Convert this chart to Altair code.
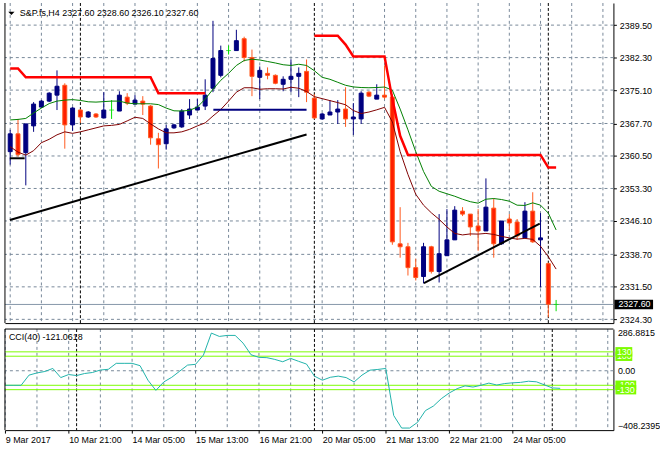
import altair as alt
import pandas as pd

# ---------------- values ----------------
symbol_caption = "S&P.fs,H4  2327.60 2328.60 2326.10 2327.60"
cci_caption = "CCI(40) -121.0618"

time_labels = ["9 Mar 2017", "10 Mar 21:00", "14 Mar 05:00", "15 Mar 13:00",
               "16 Mar 21:00", "20 Mar 05:00", "21 Mar 13:00", "22 Mar 21:00",
               "24 Mar 05:00"]
time_label_bars = [0, 8, 16, 24, 32, 40, 48, 56, 64]
grid_bars = [0, 4, 8, 12, 16, 20, 24, 28, 32, 36, 40, 44, 48, 52, 56, 60, 64, 68, 72, 76]
separator_bars = [9, 39, 69]

price_ticks = [2389.50, 2382.30, 2375.10, 2367.70, 2360.50, 2353.30,
               2346.10, 2338.70, 2331.50, 2324.30]
last_price = 2327.60

cci_ticks = [286.8815, 0.0, -408.2395]
cci_levels = [100, -100, 130, -130]

opens = [2361.46, 2365.41, 2361.24, 2367.17, 2371.34, 2372.66, 2373.98, 2376.17, 2367.39, 2370.68,
         2369.14, 2369.80, 2368.93, 2370.68, 2370.46, 2373.54, 2372.00, 2372.66, 2371.56, 2364.31,
         2363.22, 2366.73, 2366.95, 2369.58, 2370.68, 2371.56, 2375.51, 2378.37, 2383.86, 2383.86,
         2386.49, 2382.32, 2377.93, 2378.81, 2378.37, 2376.39, 2377.49, 2378.15, 2379.25, 2373.32,
         2368.71, 2369.58, 2370.24, 2370.90, 2368.71, 2368.71, 2374.64, 2373.10, 2373.98, 2373.54,
         2341.04, 2340.38, 2335.76, 2333.79, 2340.38, 2334.89, 2338.40, 2341.91, 2348.28, 2347.62,
         2344.99, 2343.89, 2348.94, 2341.04, 2346.53, 2345.87, 2342.35, 2348.28, 2341.91, 2336.64,
         2327.60]
highs = [2366.29, 2368.71, 2367.61, 2372.44, 2372.88, 2374.64, 2379.47, 2376.61, 2371.34, 2370.90,
         2370.46, 2370.02, 2374.64, 2372.88, 2374.85, 2374.42, 2373.98, 2373.76, 2371.78, 2365.63,
         2367.39, 2367.61, 2370.90, 2373.10, 2373.10, 2377.49, 2390.45, 2384.96, 2384.96, 2388.47,
         2386.93, 2384.08, 2380.34, 2380.13, 2378.59, 2378.15, 2381.88, 2380.13, 2381.88, 2374.20,
         2370.02, 2372.88, 2372.88, 2375.73, 2372.22, 2374.85, 2374.85, 2376.39, 2380.56, 2374.20,
         2349.16, 2341.25, 2337.74, 2341.25, 2340.60, 2347.62, 2348.72, 2349.38, 2349.16, 2347.62,
         2348.72, 2355.53, 2351.14, 2346.09, 2347.62, 2346.53, 2350.26, 2352.46, 2347.84, 2336.86,
         2328.60]
lows = [2358.60, 2360.36, 2353.99, 2365.85, 2371.12, 2372.44, 2370.68, 2362.12, 2366.07, 2367.83,
        2368.93, 2368.93, 2368.93, 2368.71, 2370.46, 2371.78, 2372.00, 2369.58, 2363.00, 2357.73,
        2361.90, 2366.51, 2366.73, 2368.71, 2370.68, 2370.68, 2374.64, 2377.93, 2382.98, 2383.86,
        2381.44, 2373.76, 2373.10, 2377.49, 2376.39, 2374.85, 2374.64, 2373.54, 2372.44, 2368.71,
        2368.49, 2369.58, 2367.61, 2366.95, 2365.19, 2367.61, 2373.54, 2373.10, 2373.10, 2340.82,
        2337.96, 2334.01, 2332.91, 2332.25, 2334.45, 2332.47, 2338.40, 2341.91, 2347.18, 2342.79,
        2339.50, 2343.89, 2337.96, 2340.82, 2344.11, 2341.91, 2342.35, 2341.25, 2331.37, 2324.78,
        2326.10]
closes = [2365.41, 2360.80, 2367.61, 2372.00, 2372.66, 2374.42, 2375.95, 2367.39, 2371.12, 2369.14,
          2370.24, 2369.14, 2370.68, 2370.68, 2373.98, 2372.22, 2372.88, 2372.00, 2364.53, 2363.00,
          2366.51, 2367.39, 2370.46, 2370.90, 2371.34, 2373.98, 2382.10, 2383.86, 2383.86, 2386.05,
          2382.32, 2378.15, 2379.47, 2378.37, 2376.61, 2377.49, 2378.15, 2378.81, 2374.64, 2368.93,
          2369.80, 2370.24, 2370.90, 2368.71, 2369.14, 2374.42, 2373.76, 2373.98, 2373.54, 2341.47,
          2340.38, 2335.76, 2333.57, 2340.38, 2334.89, 2338.84, 2341.91, 2348.50, 2347.62, 2344.77,
          2343.89, 2349.16, 2341.04, 2346.09, 2345.65, 2342.79, 2348.28, 2341.47, 2342.35, 2327.64,
          2327.60]

green_ma = [2368.49, 2368.60, 2368.82, 2370.02, 2371.12, 2372.11, 2372.66, 2372.88, 2372.99, 2372.81,
            2372.51, 2372.44, 2372.55, 2372.66, 2372.66, 2372.22, 2372.07, 2372.07, 2372.07, 2371.89,
            2371.12, 2370.51, 2370.46, 2370.62, 2371.34, 2373.10, 2375.29, 2377.27, 2378.81, 2380.56,
            2381.66, 2381.95, 2381.77, 2381.44, 2381.11, 2380.72, 2380.56, 2380.83, 2380.56, 2379.40,
            2377.93, 2377.49, 2376.83, 2376.17, 2375.80, 2375.67, 2375.62, 2375.67, 2375.78, 2375.07,
            2370.90, 2366.29, 2361.46, 2357.07, 2353.77, 2352.68, 2352.13, 2351.58, 2350.92, 2350.37,
            2350.04, 2350.92, 2351.07, 2350.85, 2350.48, 2349.60, 2349.54, 2350.11, 2349.60, 2347.84,
            2344.11]
maroon_ma = [2362.56, 2361.35, 2360.69, 2361.68, 2363.44, 2364.20, 2365.19, 2365.85, 2365.52, 2365.85,
             2366.29, 2366.73, 2367.17, 2367.28, 2367.50, 2368.27, 2369.08, 2368.82, 2367.61, 2366.51,
             2365.63, 2365.63, 2365.85, 2366.40, 2367.17, 2367.83, 2369.36, 2370.79, 2372.66, 2374.64,
             2375.62, 2375.62, 2375.29, 2375.40, 2375.40, 2375.34, 2375.73, 2375.51, 2374.79, 2373.65,
             2373.21, 2372.77, 2372.33, 2371.85, 2370.57, 2369.91, 2370.24, 2370.73, 2371.28, 2368.05,
             2361.46, 2356.41, 2352.02, 2349.60, 2347.91, 2346.46, 2344.77, 2343.34, 2343.01, 2343.23,
             2343.19, 2343.34, 2343.12, 2342.68, 2342.35, 2342.07, 2342.24, 2342.02, 2340.49, 2338.18,
             2335.44]
red_stop = [2379.91, 2379.91, 2377.93, 2377.93, 2377.93, 2377.93, 2377.93, 2377.93, 2377.93, 2377.93,
            2377.93, 2377.93, 2377.93, 2377.93, 2377.93, 2377.93, 2377.93, 2377.93, 2377.93, 2374.42,
            2374.42, 2374.42, 2374.42, 2374.42, 2374.42, 2374.42, None, None, None, None,
            None, None, None, None, None, None, None, None, None, 2387.15,
            2387.15, 2387.15, 2387.15, 2385.18, 2382.54, 2382.54, 2382.54, 2382.54, 2382.54, 2373.10,
            2364.97, 2360.73, 2360.73, 2360.73, 2360.73, 2360.73, 2360.73, 2360.73, 2360.73, 2360.73,
            2360.73, 2360.73, 2360.73, 2360.73, 2360.73, 2360.73, 2360.73, 2360.73, 2360.73, 2357.94,
            2357.94]
cci = [-100, -100, -100, -30, -15, -5, 16, -47, -26, -33,
       -19, -12, 5, 10, 51, 51, 51, 35, -65, -135,
       -77, -45, -3, 39, 44, 108, 259, 236, 243, 243,
       190, 110, 92, 90, 78, 62, 85, 65, 46, -37,
       -65, -45, -37, -47, -77, -30, 4, 9, 16, -308,
       -394, -394, -355, -274, -243, -192, -153, -123, -104, -112,
       -100, -85, -98, -88, -83, -80, -72, -76, -97, -118,
       -121.06]

# drawn objects (trend lines / levels): bar index and price of both ends
obj_names = ["trend_a", "trend_b", "level_navy", "level_black"]
obj_i0 = [-0.04, 53.05, 26.05, -0.04]
obj_i1 = [38.0, 67.9, 38.0, 1.85]
obj_p0 = [2346.31, 2332.32, 2370.75, 2359.99]
obj_p1 = [2365.26, 2345.49, 2370.75, 2359.99]
obj_colors = ["#000000", "#000000", "#000080", "#000000"]

# ---------------- styling ----------------
BULL = "#000080"
BEAR = "#FF2000"
BEAR_EDGE = "#FF5A1E"
DOJI = "#00E000"
GRID = "#778899"
LEVEL = "#7CFC00"
CCI_COL = "#20B2AA"
FONT = "Liberation Sans"
FS = 9

W = 614
MAIN_H = 323
CCI_H = 102
BAR_PX = 8
x_lo = -0.0375
P_LO, P_HI = 2323.47, 2394.40

x_scale = alt.Scale(domain=[x_lo, x_lo + W / BAR_PX], nice=False, zero=False)
p_scale = alt.Scale(domain=[P_LO, P_HI], nice=False, zero=False)
c_scale = alt.Scale(domain=[cci_ticks[-1], cci_ticks[0]], nice=False, zero=False)

label_expr = "".join(
    f"datum.value == {b} ? '{t}' : " for b, t in zip(time_label_bars, time_labels)
) + "''"

ax_main_x = alt.Axis(labels=False, ticks=False, grid=False, domain=True,
                     domainColor="black", title=None)
ax_main_y = alt.Axis(orient="right", values=price_ticks, format=".2f", grid=False,
                     tickSize=3, tickColor="black", domainColor="black",
                     labelPadding=3, title=None)
ax_cci_x = alt.Axis(values=time_label_bars, labelExpr=label_expr, labelAlign="left",
                    labelFlush=False, labelOverlap=False, grid=False, tickSize=3,
                    tickColor="black", domainColor="black", labelPadding=2,
                    labelBaseline="top", title=None)
ax_cci_y = alt.Axis(orient="right", values=cci_ticks,
                    labelExpr="datum.value == 0 ? '0.00' : format(datum.value, '.4f')",
                    labelFlush=True, labelFlushOffset=0, ticks=False, grid=False,
                    domainColor="black", labelPadding=4, title=None)


def MX(f="i"):
    return alt.X(f"{f}:Q", scale=x_scale, axis=ax_main_x)


def MY(f):
    return alt.Y(f"{f}:Q", scale=p_scale, axis=ax_main_y)


def CX(f="i"):
    return alt.X(f"{f}:Q", scale=x_scale, axis=ax_cci_x)


def CY(f):
    return alt.Y(f"{f}:Q", scale=c_scale, axis=ax_cci_y)


N = len(opens)
kinds = ["bull" if c > o else ("bear" if c < o else "doji") for o, c in zip(opens, closes)]
bars = pd.DataFrame({"i": list(range(N)), "open": opens, "high": highs, "low": lows,
                     "close": closes, "kind": kinds})
ind = pd.DataFrame({"i": list(range(N)), "green": green_ma, "maroon": maroon_ma, "cci": cci})

rs_rows, seg, prev = [], 0, None
for i, v in enumerate(red_stop):
    if v is None:
        if prev is not None:
            seg += 1
        prev = None
        continue
    rs_rows.append({"i": i, "v": v, "seg": seg})
    prev = v
red_df = pd.DataFrame(rs_rows)

obj_df = pd.DataFrame({"name": obj_names + obj_names, "i": obj_i0 + obj_i1,
                       "p": obj_p0 + obj_p1})

grid_df = pd.DataFrame({"i": grid_bars})
sep_df = pd.DataFrame({"i": separator_bars})
ptick_df = pd.DataFrame({"p": price_ticks})
one = pd.DataFrame({"a": [0]})

px_per_unit = MAIN_H / (P_HI - P_LO)
box_half = 4.8 / px_per_unit
last_df = pd.DataFrame({"p": [last_price], "hi": [last_price + box_half],
                        "lo": [last_price - box_half], "t": [f"{last_price:.2f}"]})

# ---------------- main panel ----------------
vgrid = alt.Chart(grid_df).mark_rule(color=GRID, strokeDash=[3, 3], strokeWidth=1).encode(x=MX())
hgrid = alt.Chart(ptick_df).mark_rule(color=GRID, strokeDash=[3, 3], strokeWidth=1).encode(y=MY("p"))
seps = alt.Chart(sep_df).mark_rule(color="black", strokeDash=[3, 2], strokeWidth=1).encode(x=MX())
pline = alt.Chart(last_df).mark_rule(color="#8596A8", strokeWidth=1).encode(y=MY("p"))

bb = alt.Chart(bars)
wick_bull = bb.transform_filter("datum.kind == 'bull'").mark_rule(color=BULL, strokeWidth=1).encode(
    x=MX(), y=MY("low"), y2="high")
wick_bear = bb.transform_filter("datum.kind == 'bear'").mark_rule(color=BEAR_EDGE, strokeWidth=1).encode(
    x=MX(), y=MY("low"), y2="high")
wick_doji = bb.transform_filter("datum.kind == 'doji'").mark_rule(color=DOJI, strokeWidth=1).encode(
    x=MX(), y=MY("low"), y2="high")
body_bull = bb.transform_filter("datum.kind == 'bull'").mark_bar(
    width=4, color=BULL, stroke=BULL, strokeWidth=1).encode(x=MX(), y=MY("open"), y2="close")
body_bear = bb.transform_filter("datum.kind == 'bear'").mark_bar(
    width=4, color=BEAR, stroke=BEAR_EDGE, strokeWidth=1).encode(x=MX(), y=MY("open"), y2="close")
body_doji = bb.transform_filter("datum.kind == 'doji'").mark_tick(
    orient="horizontal", size=5, thickness=1, color=DOJI).encode(x=MX(), y=MY("open"))

green_line = alt.Chart(ind).mark_line(color="#008000", strokeWidth=1).encode(x=MX(), y=MY("green"))
maroon_line = alt.Chart(ind).mark_line(color="#800000", strokeWidth=1).encode(x=MX(), y=MY("maroon"))
red_line = alt.Chart(red_df).mark_line(color="#FF0000", strokeWidth=2.5).encode(
    x=MX(), y=MY("v"), detail="seg:N")

objs = alt.Chart(obj_df).mark_line(strokeWidth=2).encode(
    x=MX(), y=MY("p"),
    color=alt.Color("name:N", scale=alt.Scale(domain=obj_names, range=obj_colors), legend=None),
    detail="name:N")

pbox = alt.Chart(last_df).mark_rect(color="black").encode(
    x=alt.value(615), x2=alt.value(654), y=MY("hi"), y2="lo")
ptext = alt.Chart(last_df).mark_text(color="white", align="left", baseline="middle",
                                     fontSize=FS, font=FONT).encode(
    x=alt.value(619), y=MY("p"), text="t:N")

cap_df = pd.DataFrame({"t": [symbol_caption]})
caption = alt.Chart(cap_df).mark_text(align="left", baseline="middle", fontSize=FS,
                                      color="black", font=FONT).encode(
    x=alt.value(15), y=alt.value(10.5), text="t:N")
tri = alt.Chart(one).mark_point(shape="M-1,-0.5L1,-0.5L0,0.5Z", filled=True, size=40,
                                color="black", opacity=1).encode(
    x=alt.value(6.5), y=alt.value(10.5))
left_border = alt.Chart(one).mark_rule(color="black").encode(
    x=alt.value(0), y=alt.value(0), y2=alt.value(MAIN_H))

main = alt.layer(
    vgrid, hgrid, seps, pline,
    wick_bull, wick_bear, wick_doji, body_bull, body_bear, body_doji,
    green_line, maroon_line, red_line, objs,
    pbox, ptext, caption, tri, left_border,
).properties(width=W, height=MAIN_H)

# ---------------- CCI panel ----------------
c_vgrid = alt.Chart(grid_df).mark_rule(color=GRID, strokeDash=[3, 3], strokeWidth=1).encode(x=CX())
c_zero = alt.Chart(pd.DataFrame({"v": [0.0]})).mark_rule(
    color=GRID, strokeDash=[3, 3], strokeWidth=1).encode(y=CY("v"))
c_seps = alt.Chart(sep_df).mark_rule(color="black", strokeDash=[3, 2], strokeWidth=1).encode(x=CX())
c_levels = alt.Chart(pd.DataFrame({"v": cci_levels})).mark_rule(
    color=LEVEL, strokeWidth=1).encode(y=CY("v"))
c_line = alt.Chart(ind).mark_line(color=CCI_COL, strokeWidth=1).encode(x=CX(), y=CY("cci"))

c_px_per_unit = CCI_H / (cci_ticks[0] - cci_ticks[-1])
lvl_half = 4.8 / c_px_per_unit
lvl_layers = []
for lv in cci_levels:
    d = pd.DataFrame({"v": [lv], "hi": [lv + lvl_half], "lo": [lv - lvl_half], "t": [str(lv)]})
    wbox = 21 if lv < 0 else 17
    lvl_layers.append(alt.Chart(d).mark_rect(color=LEVEL).encode(
        x=alt.value(616), x2=alt.value(616 + wbox), y=CY("hi"), y2="lo"))
    lvl_layers.append(alt.Chart(d).mark_text(color="white", align="left", baseline="middle",
                                             fontSize=FS, font=FONT).encode(
        x=alt.value(617.5), y=CY("v"), text="t:N"))

c_cap = alt.Chart(pd.DataFrame({"t": [cci_caption]})).mark_text(
    align="left", baseline="middle", fontSize=FS, color="black", font=FONT).encode(
    x=alt.value(4), y=alt.value(8), text="t:N")
c_left = alt.Chart(one).mark_rule(color="black").encode(
    x=alt.value(0), y=alt.value(0), y2=alt.value(CCI_H))
c_top = alt.Chart(one).mark_rule(color="black").encode(
    x=alt.value(0), x2=alt.value(W), y=alt.value(0))

cci_panel = alt.layer(
    c_vgrid, c_zero, c_seps, c_levels, c_line, *lvl_layers, c_cap, c_left, c_top
).properties(width=W, height=CCI_H)

chart = alt.vconcat(main, cci_panel, spacing=3).properties(
    padding={"left": 3, "top": 0, "right": 0, "bottom": 0},
    background="white",
).configure_view(stroke=None).configure_axis(
    labelFont=FONT, labelFontSize=FS, labelColor="black", domainWidth=1, tickWidth=1
).configure_text(font=FONT)

chart.save("out.html", embed_options={"renderer": "svg", "actions": False})
